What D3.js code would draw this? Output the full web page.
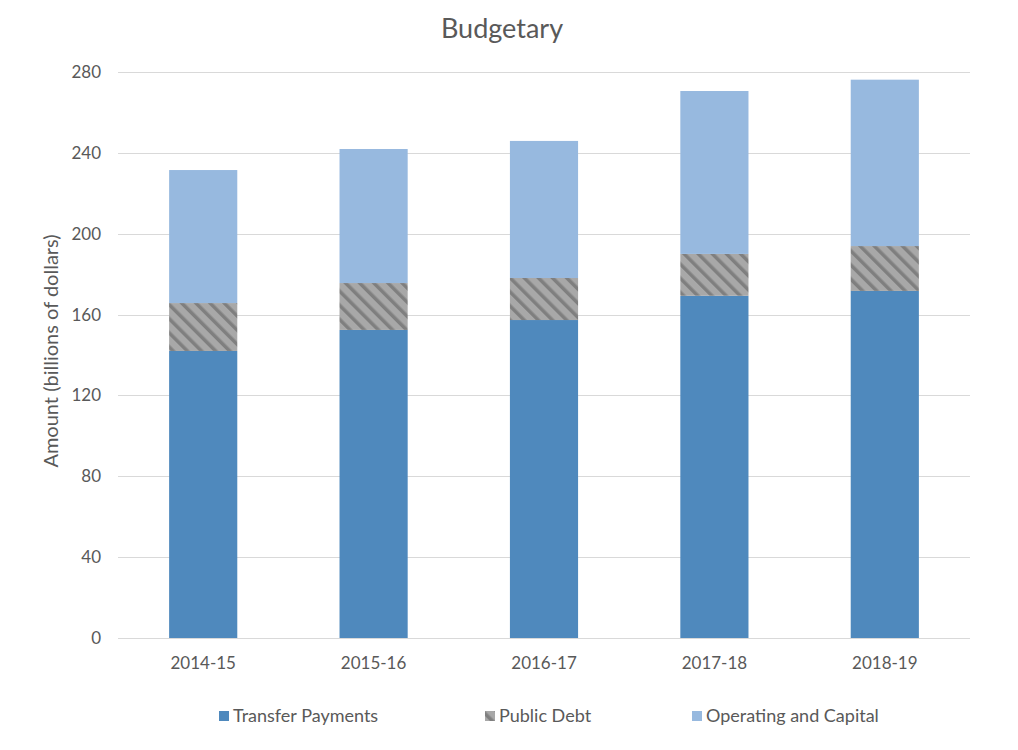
<!DOCTYPE html>
<html>
<head>
<meta charset="utf-8">
<script src="https://cdn.jsdelivr.net/npm/d3@7"></script>
<style>
  body { margin: 0; background: #fff; }
  text { font-family: Lato, "Noto Sans", sans-serif; fill: #595959; }
</style>
</head>
<body>
<div id="chart"></div>
<script>
// Data
const years = ["2014-15", "2015-16", "2016-17", "2017-18", "2018-19"];
const transferPayments = [142.0, 152.4, 157.3, 169.3, 171.7];
const publicDebt = [23.7, 23.2, 20.8, 20.7, 22.2];
const operatingCapital = [65.8, 66.3, 67.8, 80.6, 82.3];
const seriesNames = ["Transfer Payments", "Public Debt", "Operating and Capital"];
const yTicks = [0, 40, 80, 120, 160, 200, 240, 280];

const table = years.map((y, i) => ({
  year: y,
  "Transfer Payments": transferPayments[i],
  "Public Debt": publicDebt[i],
  "Operating and Capital": operatingCapital[i],
}));
const stacked = d3.stack().keys(seriesNames)(table);

// Dimensions
const width = 1018, height = 750;
const margin = { top: 72, right: 48, bottom: 112, left: 118 };
const boundedWidth = width - margin.left - margin.right;
const boundedHeight = height - margin.top - margin.bottom;

const svg = d3.select("#chart").append("svg")
  .attr("width", width)
  .attr("height", height);

// hatch pattern for public debt (stripes going down to the right)
const defs = svg.append("defs");
const pat = defs.append("pattern")
  .attr("id", "hatch")
  .attr("patternUnits", "userSpaceOnUse")
  .attr("width", 10)
  .attr("height", 10)
  .attr("patternTransform", "rotate(-45)");
pat.append("rect").attr("width", 10).attr("height", 10).attr("fill", "#a8a8a8");
pat.append("rect").attr("width", 3.5).attr("height", 10).attr("fill", "#7f7f7f");

const colors = {
  "Transfer Payments": "#4f89bd",
  "Public Debt": "url(#hatch)",
  "Operating and Capital": "#97b9df",
};

const bounds = svg.append("g")
  .attr("transform", `translate(${margin.left},${margin.top})`);

// Scales
const xScale = d3.scaleBand()
  .domain(years)
  .range([0, boundedWidth])
  .paddingInner(0.6)
  .paddingOuter(0.3);
const yScale = d3.scaleLinear()
  .domain([0, 280])
  .range([boundedHeight, 0]);

// Gridlines
bounds.append("g")
  .selectAll("line")
  .data(yTicks)
  .join("line")
  .attr("x1", 0)
  .attr("x2", boundedWidth)
  .attr("y1", d => Math.round(yScale(d)) + 0.5)
  .attr("y2", d => Math.round(yScale(d)) + 0.5)
  .attr("stroke", "#d9d9d9")
  .attr("stroke-width", 1);

// Bars
bounds.append("g")
  .selectAll("g")
  .data(stacked)
  .join("g")
  .attr("fill", d => colors[d.key])
  .selectAll("rect")
  .data(d => d)
  .join("rect")
  .attr("x", d => xScale(d.data.year))
  .attr("width", xScale.bandwidth())
  .attr("y", d => yScale(d[1]))
  .attr("height", d => yScale(d[0]) - yScale(d[1]));

// Axes
const yAxis = bounds.append("g")
  .call(d3.axisLeft(yScale).tickValues(yTicks).tickSize(0).tickPadding(17));
yAxis.select(".domain").remove();
yAxis.selectAll("text").style("font-size", "17px").attr("fill", "#595959");

const xAxis = bounds.append("g")
  .attr("transform", `translate(0,${boundedHeight})`)
  .call(d3.axisBottom(xScale).tickSize(0).tickPadding(19));
xAxis.select(".domain").remove();
xAxis.selectAll("text").style("font-size", "17px").attr("fill", "#595959");

// Title
svg.append("text")
  .attr("x", 502)
  .attr("y", 38)
  .attr("text-anchor", "middle")
  .style("font-size", "27px")
  .text("Budgetary");

// Y label
svg.append("text")
  .attr("transform", `translate(58,${margin.top + boundedHeight / 2 - 4}) rotate(-90)`)
  .attr("text-anchor", "middle")
  .style("font-size", "20px")
  .text("Amount (billions of dollars)");

// Legend
const legendX = [219, 485, 692];
const legend = svg.append("g")
  .selectAll("g")
  .data(seriesNames)
  .join("g")
  .attr("transform", (d, i) => `translate(${legendX[i]},716)`);
legend.append("rect")
  .attr("x", 0)
  .attr("y", -5)
  .attr("width", 10)
  .attr("height", 10)
  .attr("fill", d => colors[d]);
legend.append("text")
  .attr("x", 14)
  .attr("dy", "0.35em")
  .style("font-size", "18px")
  .text(d => d);
</script>
</body>
</html>
